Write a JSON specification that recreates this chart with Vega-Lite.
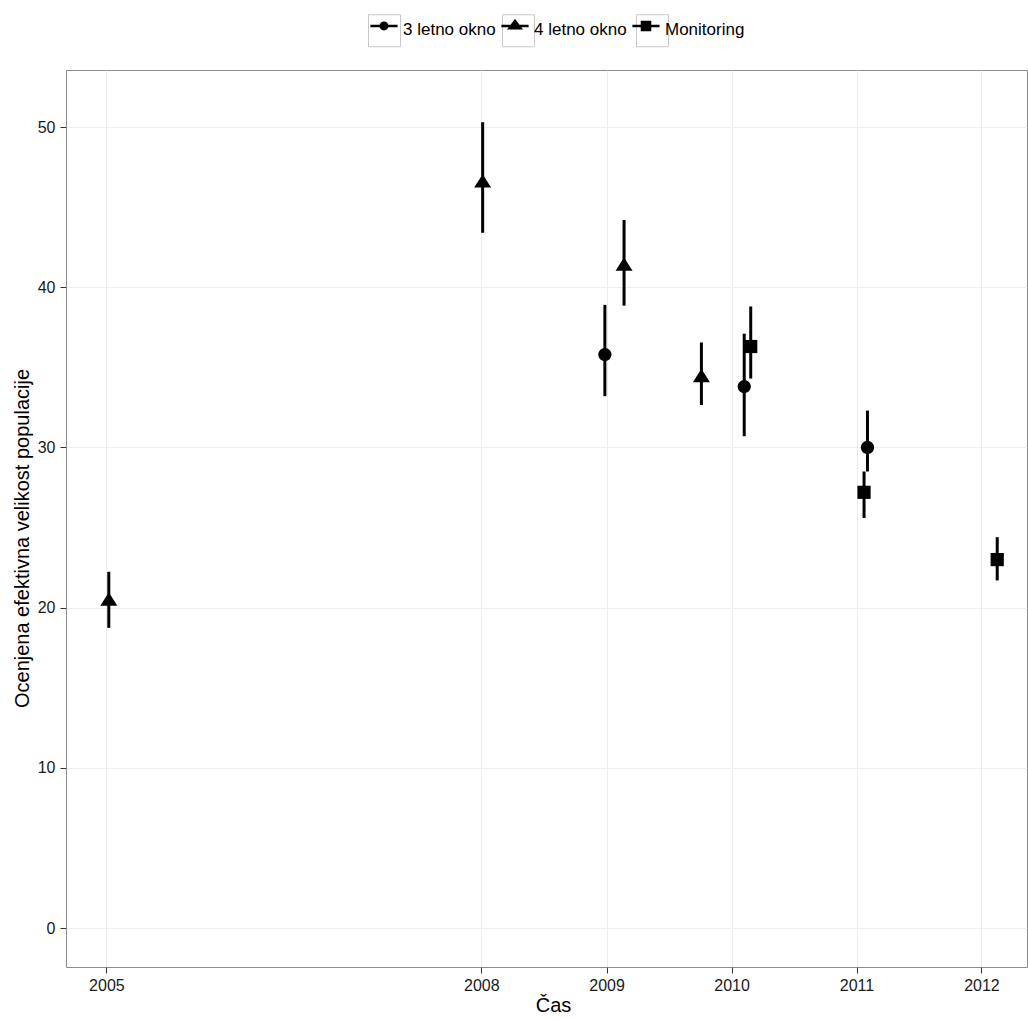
{
  "$schema": "https://vega.github.io/schema/vega-lite/v6.json",
  "width": 961,
  "height": 897,
  "autosize": {"type": "none"},
  "padding": {"left": 66, "top": 70, "right": 1, "bottom": 52},
  "background": "white",
  "config": {
    "font": "Liberation Sans",
    "view": {"stroke": "#8c8c8c", "strokeWidth": 1},
    "axis": {
      "gridColor": "#ececec",
      "gridWidth": 1,
      "domain": false,
      "tickColor": "#333333",
      "tickSize": 6,
      "labelFontSize": 16,
      "labelColor": "#1a1a1a",
      "labelFont": "Liberation Sans",
      "titleFont": "Liberation Sans",
      "titleFontSize": 20,
      "titleFontWeight": "normal",
      "titleColor": "#000000"
    }
  },
  "data": {
    "values": [
      {"series": "4 letno okno", "date": "2005-01-08", "est": 20.4, "lo": 18.74, "hi": 22.24},
      {"series": "4 letno okno", "date": "2008-01-05", "est": 46.5, "lo": 43.4, "hi": 50.3},
      {"series": "3 letno okno", "date": "2008-12-27", "est": 35.8, "lo": 33.2, "hi": 38.9},
      {"series": "4 letno okno", "date": "2009-02-21", "est": 41.3, "lo": 38.85, "hi": 44.2},
      {"series": "4 letno okno", "date": "2009-10-05", "est": 34.35, "lo": 32.65, "hi": 36.55},
      {"series": "3 letno okno", "date": "2010-02-07", "est": 33.8, "lo": 30.7, "hi": 37.1},
      {"series": "Monitoring", "date": "2010-02-26", "est": 36.3, "lo": 34.3, "hi": 38.8},
      {"series": "3 letno okno", "date": "2011-02-02", "est": 30.0, "lo": 28.5, "hi": 32.3},
      {"series": "Monitoring", "date": "2011-01-23", "est": 27.2, "lo": 25.6, "hi": 28.5},
      {"series": "Monitoring", "date": "2012-02-16", "est": 23.0, "lo": 21.7, "hi": 24.4}
    ]
  },
  "layer": [
    {
      "mark": {"type": "rule", "strokeWidth": 3, "color": "black"},
      "encoding": {
        "x": {
          "field": "date",
          "type": "temporal",
          "scale": {
            "type": "utc",
            "domain": [
              {"year": 2004, "month": 9, "date": 5, "utc": true},
              {"year": 2012, "month": 5, "date": 13, "utc": true}
            ]
          },
          "axis": {
            "title": "Čas",
            "titleX": 487,
            "titlePadding": 2,
            "values": [
              {"year": 2005, "month": 1, "date": 1, "utc": true},
              {"year": 2008, "month": 1, "date": 1, "utc": true},
              {"year": 2009, "month": 1, "date": 1, "utc": true},
              {"year": 2010, "month": 1, "date": 1, "utc": true},
              {"year": 2011, "month": 1, "date": 1, "utc": true},
              {"year": 2012, "month": 1, "date": 1, "utc": true}
            ],
            "format": "%Y",
            "formatType": "utc",
            "labelFlush": false,
            "labelOverlap": false,
            "labelPadding": 4,
            "grid": true
          }
        },
        "y": {
          "field": "lo",
          "type": "quantitative",
          "scale": {"domain": [-2.43, 53.56], "nice": false, "zero": false},
          "axis": {
            "title": "Ocenjena efektivna velikost populacije",
            "titleY": 468,
            "values": [0, 10, 20, 30, 40, 50],
            "labelPadding": 5,
            "titlePadding": 5,
            "grid": true
          }
        },
        "y2": {"field": "hi"}
      }
    },
    {
      "mark": {"type": "point", "filled": true, "opacity": 1, "color": "black", "size": 400, "strokeWidth": 0},
      "encoding": {
        "x": {"field": "date", "type": "temporal"},
        "y": {"field": "est", "type": "quantitative"},
        "shape": {
          "field": "series",
          "type": "nominal",
          "scale": {
            "domain": ["3 letno okno", "4 letno okno", "Monitoring"],
            "range": [
              "M0.66,0A0.66,0.66,0,1,1,-0.66,0A0.66,0.66,0,1,1,0.66,0Z",
              "M0,-0.89L0.85,0.445L-0.85,0.445Z",
              "M-0.66,-0.66H0.66V0.66H-0.66Z"
            ]
          },
          "legend": null
        }
      }
    },
    {
      "transform": [{"filter": "datum.est < 0"}],
      "mark": {"type": "point", "filled": false, "opacity": 1, "color": "#c8c8c8", "size": 1024, "strokeWidth": 1},
      "encoding": {
        "x": {"field": "date", "type": "temporal"},
        "y": {"field": "est", "type": "quantitative"},
        "shape": {
          "field": "series",
          "type": "nominal",
          "scale": {
            "domain": ["3 letno okno", "4 letno okno", "Monitoring"],
            "range": [
              "M-1,-1H1V1H-1Z",
              "M-1,-1H1V1H-1Z",
              "M-1,-1H1V1H-1Z"
            ]
          },
          "legend": {
            "orient": "none",
            "legendX": 302,
            "legendY": -56,
            "direction": "horizontal",
            "title": null,
            "padding": 0,
            "labelExpr": "''",
            "labelFontSize": 1,
            "labelOffset": 0,
            "columnPadding": 97,
            "symbolSize": 1024,
            "symbolFillColor": "transparent",
            "symbolStrokeColor": "#c8c8c8",
            "symbolStrokeWidth": 1,
            "symbolOpacity": 1
          }
        }
      }
    },
    {
      "transform": [{"filter": "datum.est < 0"}],
      "mark": {"type": "point", "filled": true, "opacity": 1, "color": "black", "size": 1024, "strokeWidth": 0},
      "encoding": {
        "x": {"field": "date", "type": "temporal"},
        "y": {"field": "est", "type": "quantitative"},
        "shape": {
          "field": "series",
          "type": "nominal",
          "scale": {
            "domain": ["3 letno okno", "4 letno okno", "Monitoring"],
            "range": [
              "M-0.85,-0.335H0.85V-0.165H-0.85ZM0.28,-0.25A0.28,0.28,0,1,1,-0.28,-0.25A0.28,0.28,0,1,1,0.28,-0.25Z",
              "M-0.85,-0.335H0.85V-0.165H-0.85ZM0,-0.7L0.5,-0.03L-0.5,-0.03Z",
              "M-0.85,-0.335H0.85V-0.165H-0.85ZM-0.33,-0.58H0.33V0.08H-0.33Z"
            ]
          },
          "legend": {
            "orient": "none",
            "legendX": 302,
            "legendY": -56,
            "direction": "horizontal",
            "title": null,
            "padding": 0,
            "labelFont": "Liberation Sans",
            "labelFontSize": 17,
            "labelColor": "black",
            "labelOffset": 3,
            "columnPadding": 3,
            "symbolSize": 1024,
            "symbolFillColor": "black",
            "symbolStrokeWidth": 0,
            "symbolOpacity": 1
          }
        }
      }
    }
  ],
  "resolve": {"scale": {"shape": "independent"}}
}
